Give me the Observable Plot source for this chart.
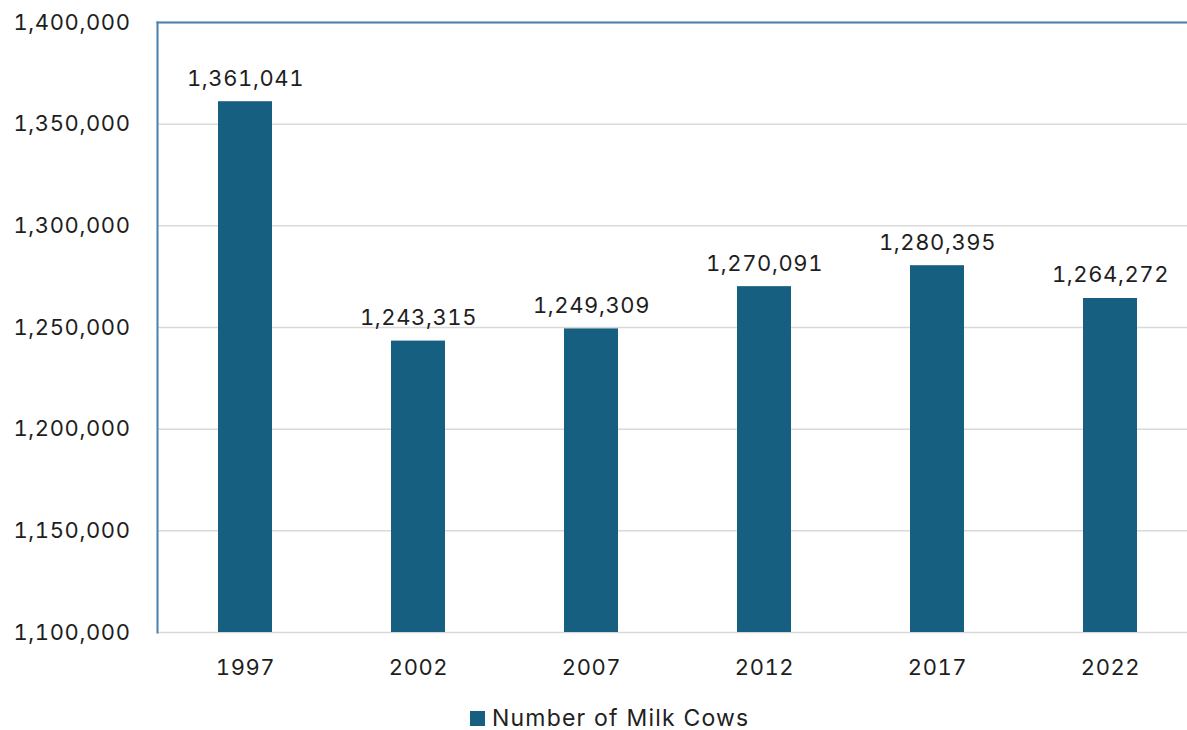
<!DOCTYPE html>
<html>
<head>
<meta charset="utf-8">
<script src="https://cdn.jsdelivr.net/npm/d3@7"></script>
<script src="https://cdn.jsdelivr.net/npm/@observablehq/plot@0.6"></script>
<style>
  html, body { margin: 0; padding: 0; background: #fff; overflow: hidden; }
  body { width: 1187px; height: 730px; position: relative; font-family: Inter, "Open Sans", sans-serif; }
  #chart { position: absolute; left: 0; top: 0; }
  #chart svg { max-width: none !important; font-variant-numeric: tabular-nums; }
  #legend { position: absolute; left: 470px; top: 704px; display: flex; align-items: center; font-size: 23px; letter-spacing: 1.2px; color: #222; }
  #legend .sw { width: 15px; height: 15px; background: #175f80; margin-right: 7px; }
</style>
</head>
<body>
<div id="chart"></div>
<div id="legend"><span class="sw"></span><span>Number of Milk Cows</span></div>
<script>
// Census years and milk cow inventory
const years = ["1997", "2002", "2007", "2012", "2017", "2022"];
const cows = [1361041, 1243315, 1249309, 1270091, 1280395, 1264272];
const yTicks = [1100000, 1150000, 1200000, 1250000, 1300000, 1350000, 1400000];

const data = years.map((year, i) => ({year, cows: cows[i]}));
const fmt = d3.format(",");
const barColor = "#175f80";
const edgeColor = "#4a80ab";

const chart = Plot.plot({
  width: 1200,
  height: 690,
  marginTop: 22,
  marginBottom: 58,
  marginLeft: 157,
  marginRight: 3,
  style: {fontFamily: "Inter, 'Open Sans', sans-serif", fontSize: "22px", letterSpacing: "0.6px", fontVariantNumeric: "tabular-nums", color: "#1e1e1e", maxWidth: "none"},
  x: {domain: years, paddingInner: 0.69, paddingOuter: 0.345, label: null, tickSize: 0, tickPadding: 27},
  y: {domain: [1100000, 1400000], ticks: yTicks, tickFormat: fmt, label: null, tickSize: 0, tickPadding: 27},
  marks: [
    Plot.gridY(yTicks, {stroke: "#d9d9d9", strokeOpacity: 1, strokeWidth: 1.5}),
    Plot.barY(data, {x: "year", y1: 1100000, y2: "cows", fill: barColor}),
    Plot.text(data, {x: "year", y: "cows", text: d => fmt(d.cows), lineAnchor: "bottom", dy: -16, fontSize: 22, fill: "#1e1e1e"}),
    Plot.frame({anchor: "top", stroke: edgeColor, strokeWidth: 2}),
    Plot.frame({anchor: "left", stroke: edgeColor, strokeWidth: 2})
  ]
});
chart.style.maxWidth = "none";
document.getElementById("chart").appendChild(chart);
</script>
</body>
</html>
